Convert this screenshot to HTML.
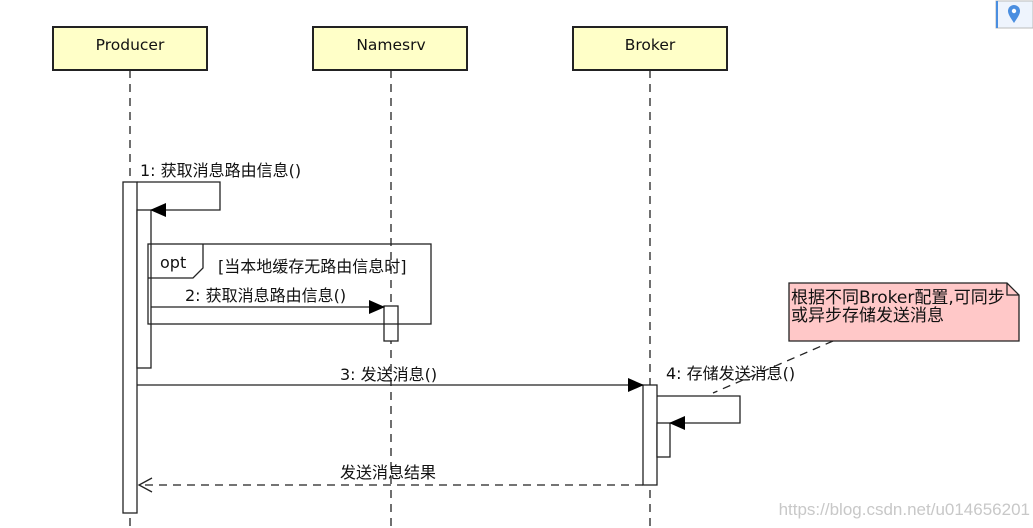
<!DOCTYPE html>
<html><head><meta charset="utf-8"><style>
html,body{margin:0;padding:0;background:#fff;width:1033px;height:528px;overflow:hidden}
text{font-family:"DejaVu Sans","Noto Sans CJK SC",sans-serif;fill:#111}
</style></head><body>
<svg width="1033" height="528" xmlns="http://www.w3.org/2000/svg" font-size="16">
<defs>
<marker id="fa" markerWidth="16" markerHeight="14" refX="15" refY="7" orient="auto" markerUnits="userSpaceOnUse"><path d="M0,0 L16,7 L0,14 Z" fill="#000"/></marker>
</defs>
<g stroke="#222" stroke-width="1.3" stroke-dasharray="8,6">
<line x1="130" y1="70" x2="130" y2="528"/>
<line x1="391" y1="70" x2="391" y2="528"/>
<line x1="650" y1="70" x2="650" y2="528"/>
</g>
<g fill="#ffffc8" stroke="#222" stroke-width="2">
<rect x="53" y="27" width="154" height="43"/>
<rect x="313" y="27" width="154" height="43"/>
<rect x="573" y="27" width="154" height="43"/>
</g>
<text x="130" y="50" text-anchor="middle" font-size="15.5">Producer</text>
<text x="391" y="50" text-anchor="middle" font-size="15.5">Namesrv</text>
<text x="650" y="50" text-anchor="middle" font-size="15.5">Broker</text>
<g fill="#fff" stroke="#222" stroke-width="1.3">
<rect x="123" y="182" width="14" height="331"/>
<rect x="137" y="210" width="14" height="158"/>
<rect x="384" y="306" width="14" height="35"/>
<rect x="643" y="385" width="14" height="100"/>
<rect x="657" y="423" width="13" height="34"/>
</g>
<polyline points="137,182 220,182 220,210 151,210" fill="none" stroke="#222" stroke-width="1.3" marker-end="url(#fa)"/>
<text x="140" y="176">1: 获取消息路由信息()</text>
<rect x="148" y="244" width="283" height="80" fill="none" stroke="#222" stroke-width="1.3"/>
<polyline points="148,278 193,278 203,268 203,244" fill="none" stroke="#222" stroke-width="1.3"/>
<text x="160" y="268">opt</text>
<text x="218" y="272">[当本地缓存无路由信息时]</text>
<line x1="151" y1="307" x2="384" y2="307" stroke="#222" stroke-width="1.3" marker-end="url(#fa)"/>
<text x="185" y="301">2: 获取消息路由信息()</text>
<line x1="137" y1="385" x2="643" y2="385" stroke="#222" stroke-width="1.3" marker-end="url(#fa)"/>
<text x="340" y="380">3: 发送消息()</text>
<polyline points="657,396 740,396 740,423 670,423" fill="none" stroke="#222" stroke-width="1.3" marker-end="url(#fa)"/>
<text x="666" y="379">4: 存储发送消息()</text>
<line x1="643" y1="485" x2="139" y2="485" stroke="#222" stroke-width="1.3" stroke-dasharray="8,6"/>
<polyline points="152,478 139,485 152,492" fill="none" stroke="#222" stroke-width="1.3"/>
<text x="340" y="478">发送消息结果</text>
<line x1="833" y1="341" x2="713" y2="393" stroke="#222" stroke-width="1.3" stroke-dasharray="8,6"/>
<path d="M789,283 L1007,283 L1019,295 L1019,341 L789,341 Z" fill="#ffc8c8" stroke="#222" stroke-width="1.3"/>
<polyline points="1007,283 1007,295 1019,295" fill="none" stroke="#222" stroke-width="1.3"/>
<text x="791" y="303" font-size="17">根据不同Broker配置,可同步</text>
<text x="791" y="321" font-size="17">或异步存储发送消息</text>
<text x="1030" y="515" text-anchor="end" font-size="17" style="fill:#c8c8c8;font-family:'Liberation Sans',sans-serif">https://blog.csdn.net/u014656201</text>
<rect x="996" y="1" width="37" height="27" fill="#eef4fd" stroke="#bbb"/>
<rect x="996" y="1" width="2" height="27" fill="#4a8ee0"/>
<path d="M1014,23 C1010,17 1008,14 1008,11 A6,6 0 0 1 1020,11 C1020,14 1018,17 1014,23 Z" fill="#4a8ee0"/>
<circle cx="1014" cy="11" r="2.2" fill="#fff"/>
</svg>
</body></html>
